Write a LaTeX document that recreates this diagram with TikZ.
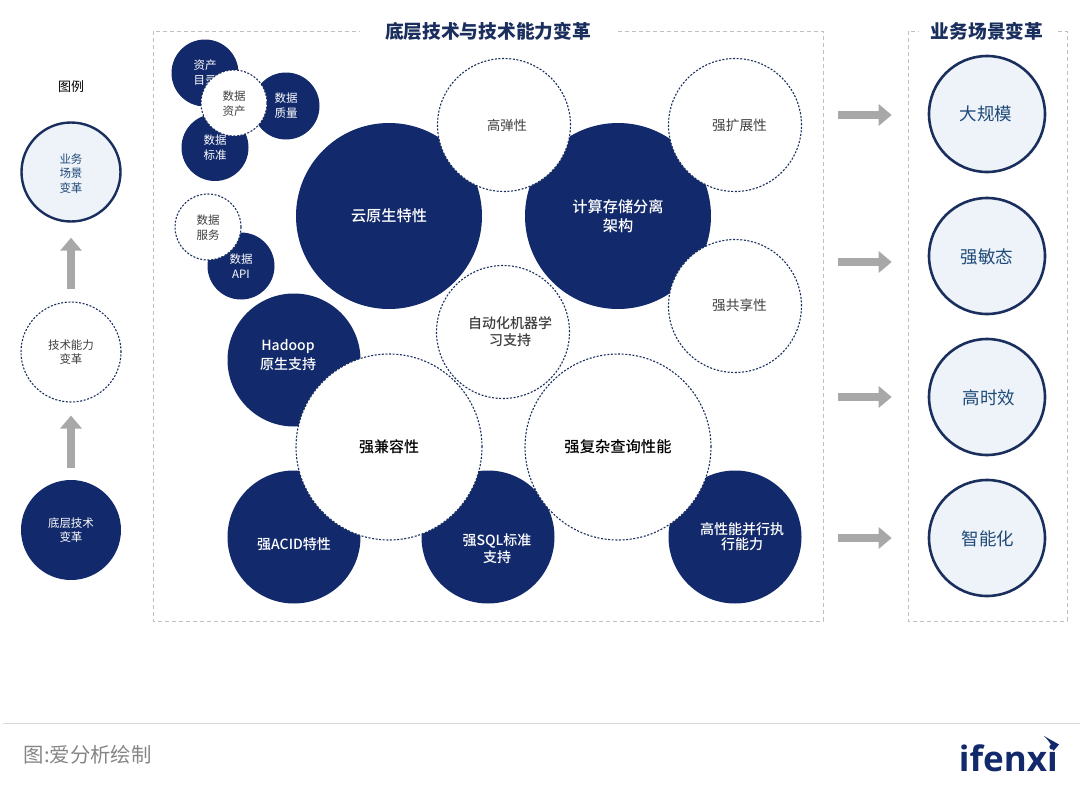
\documentclass[tikz,border=0pt]{standalone}
\usepackage{fontspec}
\setmainfont{Noto Sans CJK SC}
\newfontfamily\logofont{Open Sans}
\newfontfamily\mediumfont{Noto Sans CJK SC Medium}
\usetikzlibrary{arrows.meta}
\definecolor{navyblue}{HTML}{12296B}
\definecolor{deepline}{HTML}{1B2F5E}
\definecolor{palefill}{HTML}{EDF3F9}
\definecolor{scenetext}{HTML}{1F4A78}
\definecolor{dashgray}{HTML}{BFBFBF}
\definecolor{arrowgray}{HTML}{A8A8A8}
\definecolor{labelgray}{HTML}{3F3F3F}
\tikzset{
    navydot/.style={circle, fill=navyblue, text=white, inner sep=0pt, align=center},
    whitedot/.style={circle, draw=deepline, fill=white, text=labelgray, line width=1.1pt,
        dash pattern=on 2pt off 1.6pt, inner sep=0pt, align=center},
    scenedot/.style={circle, draw=deepline, fill=palefill, text=scenetext, line width=2.6pt,
        inner sep=0pt, align=center},
    panelbox/.style={draw=dashgray, line width=0.9pt, dash pattern=on 4pt off 3pt},
    paneltitle/.style={fill=white, text=deepline, font=\fontsize{18.7}{22}\selectfont\bfseries, inner ysep=2pt},
    dotlabel/.style={inner sep=0pt, align=center, font=\fontsize{14}{17}\mediumfont},
    fatarrow/.style={draw=arrowgray, line width=8pt, -{Triangle[length=13pt,width=21pt]}}
}
\begin{document}
\begin{tikzpicture}[x=1pt, y=-1pt]
    \useasboundingbox (0,0) rectangle (1080,795);

    % Panels
    \draw[panelbox] (153,31) rectangle (823,621);
    \draw[panelbox] (908,31) rectangle (1067,621);
    \node[paneltitle, inner xsep=25pt] (techtitle) at (488,31) {底层技术与技术能力变革};
    \node[paneltitle, inner xsep=12pt] (scenetitle) at (987,31) {业务场景变革};

    % Legend
    \node[font=\fontsize{13}{15}\selectfont, text=black] (legendtitle) at (71,87) {图例};
    \node[scenedot, minimum size=99pt, line width=2.4pt] (legendscene) at (71,172) {};
    \node[dotlabel, text=scenetext, font=\fontsize{11.5}{14.2}\selectfont] (legendscenelabel) at (71,173.5) {业务\\场景\\变革};
    \node[whitedot, minimum size=100pt, font=\fontsize{11.5}{14.5}\selectfont] (legendtech) at (71,352) {技术能力\\变革};
    \node[navydot, minimum size=100pt, font=\fontsize{11.5}{14.5}\selectfont] (legendbase) at (71,530) {底层技术\\变革};
    \draw[fatarrow, shorten <=12pt, shorten >=15pt] (legendtech) -- (legendscene);
    \draw[fatarrow, shorten <=12pt, shorten >=13pt] (legendbase) -- (legendtech);

    % Small clusters
    \node[navydot, minimum size=67pt, font=\fontsize{11.5}{15}\selectfont] (assetlist) at (205,73) {资产\\目录};
    \node[navydot, minimum size=67pt, font=\fontsize{11.5}{15}\selectfont] (quality) at (286,106) {数据\\质量};
    \node[navydot, minimum size=67pt, font=\fontsize{11.5}{15}\selectfont] (standard) at (215,147.5) {数据\\标准};
    \node[whitedot, minimum size=66pt, font=\fontsize{11.5}{15}\selectfont] (asset) at (234,103) {};
    \node[dotlabel, text=labelgray, font=\fontsize{11.5}{15}\selectfont] (assetlabel) at (234,104) {数据\\资产};
    \node[navydot, minimum size=67pt, font=\fontsize{11.5}{15}\selectfont] (dataapi) at (241,266) {数据\\API};
    \node[whitedot, minimum size=66pt, font=\fontsize{11.5}{15}\selectfont] (service) at (208,227) {};
    \node[dotlabel, text=labelgray, font=\fontsize{11.5}{15}\selectfont] (servicelabel) at (208,228) {数据\\服务};

    % Base technology
    \node[navydot, minimum size=186pt, font=\fontsize{15.2}{19}\mediumfont] (cloud) at (389,216) {云原生特性};
    \node[navydot, minimum size=186pt, font=\fontsize{15.2}{19}\mediumfont] (separate) at (618,216) {计算存储分离\\架构};
    \node[navydot, minimum size=133pt] (hadoop) at (294,360) {};
    \node[dotlabel, text=white, font=\fontsize{14}{19}\mediumfont] (hadooplabel) at (288,355) {Hadoop\\原生支持};
    \node[navydot, minimum size=133pt] (acid) at (294,537) {};
    \node[dotlabel, text=white] (acidlabel) at (294,544) {强ACID特性};
    \node[navydot, minimum size=133pt] (sqlstd) at (488,537) {};
    \node[dotlabel, text=white] (sqllabel) at (497,549) {强SQL标准\\支持};
    \node[navydot, minimum size=133pt] (parallel) at (735,537) {};
    \node[dotlabel, text=white, font=\fontsize{14}{15}\mediumfont] (parallellabel) at (742,537) {高性能并行执\\行能力};

    % Capability
    \node[whitedot, minimum size=133pt] (elastic) at (504,125) {};
    \node[dotlabel, text=labelgray, font=\fontsize{13.3}{16}\selectfont] (elasticlabel) at (507,125) {高弹性};
    \node[whitedot, minimum size=133pt] (scaleout) at (735,125) {};
    \node[dotlabel, text=labelgray, font=\fontsize{13.7}{16}\selectfont] (scaleoutlabel) at (739.5,125) {强扩展性};
    \node[whitedot, minimum size=133pt] (sharing) at (735,306) {};
    \node[dotlabel, text=labelgray, font=\fontsize{13.7}{16}\selectfont] (sharinglabel) at (739.5,305) {强共享性};
    \node[whitedot, minimum size=133pt] (automl) at (503,332) {};
    \node[dotlabel, text=labelgray] (automllabel) at (510,332) {自动化机器学\\习支持};
    \node[whitedot, minimum size=186pt, text=black, font=\fontsize{15}{19}\mediumfont] (compat) at (389,447) {强兼容性};
    \node[whitedot, minimum size=186pt, text=black, font=\fontsize{15.3}{19}\mediumfont] (query) at (618,447) {强复杂查询性能};

    % Business scenes
    \node[scenedot, minimum size=116pt] (bigscale) at (987,114) {};
    \node[dotlabel, text=scenetext, font=\fontsize{17.5}{20}\selectfont] (bigscalelabel) at (986,113.5) {大规模};
    \node[scenedot, minimum size=116pt] (agile) at (987,256) {};
    \node[dotlabel, text=scenetext, font=\fontsize{17.5}{20}\selectfont] (agilelabel) at (987,257) {强敏态};
    \node[scenedot, minimum size=116pt] (timely) at (987,397) {};
    \node[dotlabel, text=scenetext, font=\fontsize{17.5}{20}\selectfont] (timelylabel) at (989,398) {高时效};
    \node[scenedot, minimum size=116pt] (smart) at (987,538) {};
    \node[dotlabel, text=scenetext, font=\fontsize{17.5}{20}\selectfont] (smartlabel) at (988,539) {智能化};

    % Arrows
    \coordinate (arrowa) at (838,115);
    \coordinate (arrowb) at (838,262);
    \coordinate (arrowc) at (838,397);
    \coordinate (arrowd) at (838,538);
    \draw[fatarrow, shorten >=36pt] (arrowa) -- (arrowa -| bigscale.west);
    \draw[fatarrow, shorten >=36pt] (arrowb) -- (arrowb -| agile.west);
    \draw[fatarrow, shorten >=36pt] (arrowc) -- (arrowc -| timely.west);
    \draw[fatarrow, shorten >=36pt] (arrowd) -- (arrowd -| smart.west);

    % Footer
    \draw[draw=black!15, line width=1pt] (3,723) -- (1080,723);
    \node[anchor=west, inner sep=0pt, text=black!48, font=\fontsize{20.4}{22}\selectfont] (source) at (23.5,755) {图:爱分析绘制};
    \node[anchor=base east, inner sep=0pt, text=navyblue, font=\fontsize{35}{38}\logofont\bfseries] (logo) at (1058,771) {ifenxi};
    \fill[navyblue] (1044,736) -- (1059,744.5) -- (1053.5,751) .. controls (1052,745) and (1049,741) .. cycle;
\end{tikzpicture}
\end{document}
